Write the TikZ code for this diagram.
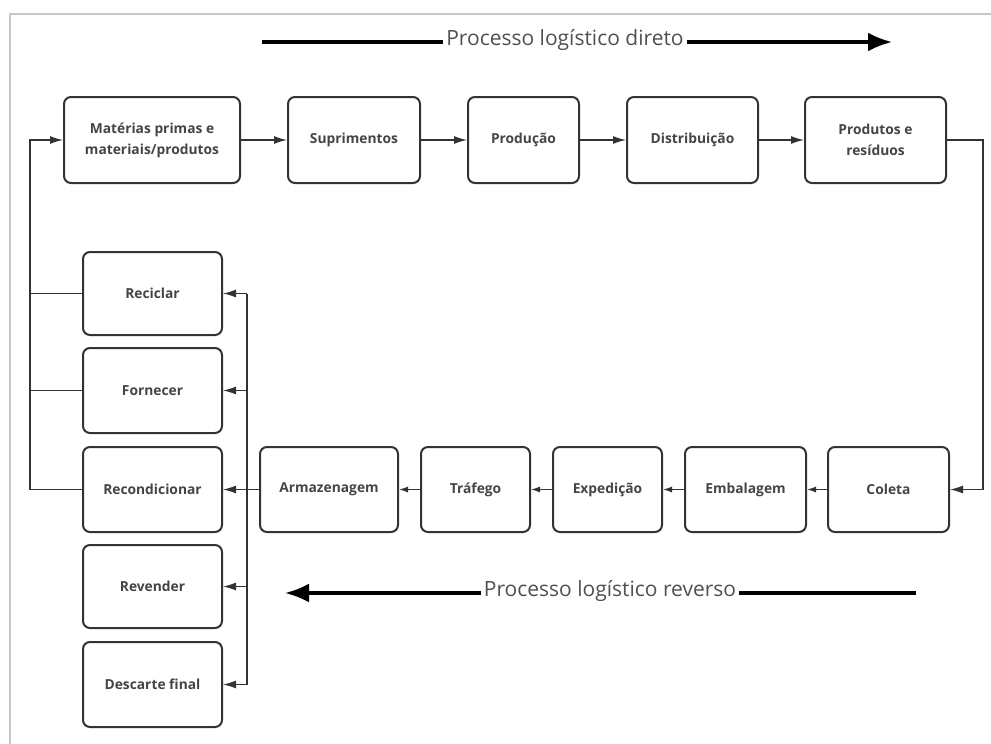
\documentclass[tikz,border=0pt]{standalone}
\usepackage{fontspec}
\setmainfont{Open Sans}
\usetikzlibrary{arrows.meta}
\definecolor{boxline}{HTML}{333333}
\definecolor{boxtext}{HTML}{454545}
\definecolor{labtext}{HTML}{505050}
\definecolor{frame}{HTML}{C8C8C8}
\begin{document}
\begin{tikzpicture}[x=1pt,y=-1pt,
  boxnode/.style={draw=boxline, line width=2pt, rounded corners=7pt, fill=white,
    inner sep=0pt, align=center, text=boxtext,
    font=\fontsize{13.8}{21}\selectfont\bfseries},
  conn/.style={line width=1.2pt, draw=boxline},
  arrbig/.style={conn, -{Latex[length=13pt,width=8pt]}},
  arrsmall/.style={conn, -{Latex[length=9pt,width=6pt]}},
  fat/.style={line width=3.2pt, draw=black},
  fathead/.style={fat, -{Latex[length=24pt,width=19pt]}},
  proclabel/.style={inner sep=3pt, text=labtext, font=\fontsize{21}{24}\selectfont}]
\useasboundingbox (0,0) rectangle (991,744);
\fill[white] (0,0) rectangle (991,744);
\draw[frame, line width=2pt] (10,744) -- (10,14) -- (991,14);

% top row
\node[boxnode, minimum width=176pt, minimum height=86pt] (m1) at (152,140) {Matérias primas e\\materiais/produtos};
\node[boxnode, minimum width=132pt, minimum height=86pt] (m2) at (354,140) {Suprimentos};
\node[boxnode, minimum width=111pt, minimum height=86pt] (m3) at (523.5,140) {Produção};
\node[boxnode, minimum width=131pt, minimum height=86pt] (m4) at (692.5,140) {Distribuição};
\node[boxnode, minimum width=141pt, minimum height=86pt] (m5) at (875.5,140) {Produtos e\\resíduos};

% bottom row
\node[boxnode, minimum width=138pt, minimum height=85pt] (b1) at (329,489.5) {Armazenagem};
\node[boxnode, minimum width=109pt, minimum height=85pt] (b2) at (475.5,489.5) {Tráfego};
\node[boxnode, minimum width=109pt, minimum height=85pt] (b3) at (607.5,489.5) {Expedição};
\node[boxnode, minimum width=121pt, minimum height=85pt] (b4) at (745.5,489.5) {Embalagem};
\node[boxnode, minimum width=121pt, minimum height=85pt] (b5) at (888.5,489.5) {Coleta};

% left column
\node[boxnode, minimum width=139pt, minimum height=83pt] (r1) at (152.5,293.5) {Reciclar};
\node[boxnode, minimum width=139pt, minimum height=85pt] (r2) at (152.5,390.5) {Fornecer};
\node[boxnode, minimum width=139pt, minimum height=85pt] (r3) at (152.5,489.5) {Recondicionar};
\node[boxnode, minimum width=139pt, minimum height=83pt] (r4) at (152.5,586.5) {Revender};
\node[boxnode, minimum width=139pt, minimum height=85pt] (r5) at (152.5,684.5) {Descarte final};

% top row arrows
\draw[arrbig] (m1) -- (m2);
\draw[arrbig] (m2) -- (m3);
\draw[arrbig] (m3) -- (m4);
\draw[arrbig] (m4) -- (m5);

% right connector
\coordinate (rb) at (983,140);
\draw[arrbig] (m5.east) -- (rb) |- (b5.east);

% bottom row arrows
\draw[arrsmall] (b5) -- (b4);
\draw[arrsmall] (b4) -- (b3);
\draw[arrsmall] (b3) -- (b2);
\draw[arrsmall] (b2) -- (b1);
\draw[arrbig] (b1) -- (r3);

% inner bus
\coordinate (ibt) at (247,293.5);
\coordinate (ibb) at (247,684.5);
\draw[conn] (ibt) -- (ibb);
\draw[arrbig] (ibt) -- (r1.east);
\draw[arrbig] (r2.east -| ibt) -- (r2.east);
\draw[arrbig] (r4.east -| ibt) -- (r4.east);
\draw[arrbig] (ibb) -- (r5.east);

% left bus
\coordinate (lb) at (30,489.5);
\draw[arrbig] (r3.west) -- (lb) |- (m1.west);
\draw[conn] (r1.west) -- (r1.west -| lb);
\draw[conn] (r2.west) -- (r2.west -| lb);

% process labels
\node[proclabel] (tdir) at (565,40) {Processo logístico direto};
\coordinate (d0) at (262,42);
\coordinate (d1) at (892,42);
\draw[fat] (d0) -- (tdir.west |- d0);
\draw[fathead] (tdir.east |- d1) -- (d1);

\node[proclabel] (trev) at (610,591) {Processo logístico reverso};
\coordinate (v0) at (916,593);
\coordinate (v1) at (285,593);
\draw[fat] (v0) -- (trev.east |- v0);
\draw[fathead] (trev.west |- v1) -- (v1);
\end{tikzpicture}
\end{document}
